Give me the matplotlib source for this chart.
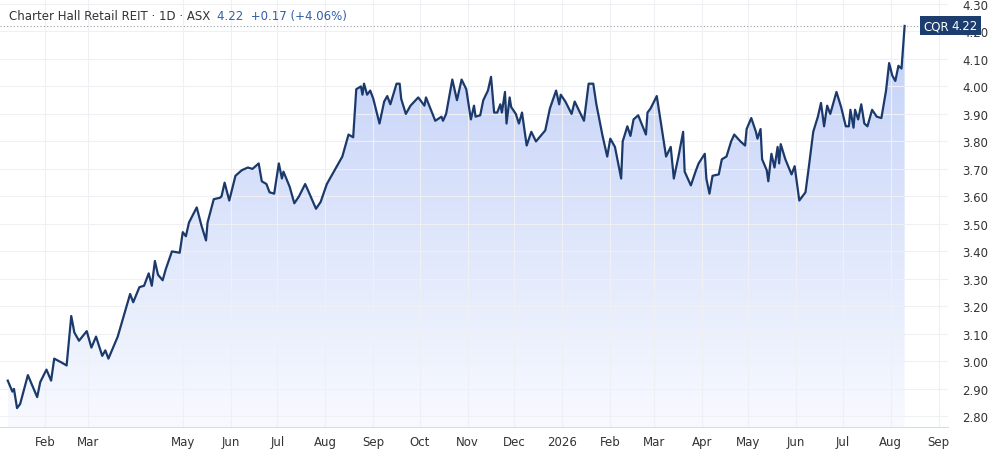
import matplotlib
matplotlib.use("Agg")
import matplotlib.pyplot as plt
import numpy as np
import pandas as pd
from matplotlib.patches import Polygon

start = pd.Timestamp("2025-01-08")
day_offsets = [0,3,4,6,8,13,19,21,25,28,30,35,38,41,43,46,51,54,57,61,63,65,71,79,81,85,88,91,93,95,97,100,102,106,111,113,115,117,122,125,128,129,133,137,138,140,143,147,151,155,158,162,164,167,169,172,175,177,178,182,185,188,192,194,199,202,206,213,216,220,223,225,228,229,230,232,234,236,240,243,245,247,251,253,254,257,260,265,269,270,276,280,281,283,287,290,293,296,299,301,302,305,307,310,312,314,316,318,319,321,322,324,325,328,330,332,335,338,341,344,347,350,354,356,357,360,364,366,372,375,378,380,384,387,389,392,396,397,400,402,404,407,412,413,415,419,422,425,428,430,433,436,437,441,444,446,450,451,453,455,459,461,464,467,469,473,476,477,480,483,484,486,487,490,491,493,495,497,498,499,502,506,508,511,515,517,520,523,525,527,529,531,535,538,541,543,544,546,547,549,551,553,555,558,561,564,567,569,571,573,575,577,579]
prices = [2.93,2.89,2.90,2.83,2.845,2.95,2.87,2.925,2.97,2.93,3.01,2.995,2.985,3.165,3.105,3.075,3.11,3.05,3.09,3.02,3.04,3.01,3.09,3.245,3.215,3.27,3.275,3.32,3.275,3.365,3.315,3.295,3.335,3.40,3.395,3.47,3.455,3.505,3.56,3.495,3.44,3.505,3.59,3.595,3.60,3.65,3.585,3.675,3.695,3.705,3.70,3.72,3.655,3.645,3.615,3.61,3.72,3.665,3.69,3.635,3.575,3.60,3.645,3.62,3.555,3.58,3.645,3.715,3.745,3.825,3.815,3.99,4.00,3.97,4.01,3.97,3.985,3.955,3.865,3.945,3.965,3.935,4.01,4.01,3.955,3.90,3.93,3.96,3.93,3.96,3.875,3.89,3.875,3.90,4.025,3.95,4.025,3.99,3.88,3.93,3.89,3.895,3.95,3.985,4.035,3.905,3.905,3.935,3.905,3.98,3.865,3.96,3.925,3.90,3.865,3.905,3.785,3.835,3.80,3.82,3.84,3.92,3.985,3.935,3.97,3.945,3.90,3.945,3.875,4.01,4.01,3.935,3.82,3.745,3.81,3.78,3.665,3.80,3.855,3.82,3.88,3.895,3.825,3.905,3.92,3.965,3.855,3.745,3.78,3.665,3.745,3.835,3.69,3.64,3.69,3.72,3.755,3.665,3.61,3.675,3.68,3.735,3.745,3.80,3.825,3.80,3.785,3.845,3.885,3.835,3.81,3.845,3.735,3.695,3.655,3.755,3.705,3.78,3.72,3.79,3.735,3.68,3.71,3.585,3.615,3.70,3.835,3.89,3.94,3.855,3.93,3.90,3.98,3.925,3.855,3.855,3.915,3.85,3.915,3.88,3.935,3.865,3.855,3.915,3.89,3.885,3.985,4.085,4.04,4.02,4.075,4.065,4.22]
month_ticks = ["2025-02-01","2025-03-01","2025-05-01","2025-06-01","2025-07-01","2025-08-01","2025-09-01","2025-10-01","2025-11-01","2025-12-01","2026-01-01","2026-02-01","2026-03-01","2026-04-01","2026-05-01","2026-06-01","2026-07-01","2026-08-01","2026-09-01"]
month_labels = ["Feb","Mar","May","Jun","Jul","Aug","Sep","Oct","Nov","Dec","2026","Feb","Mar","Apr","May","Jun","Jul","Aug","Sep"]
y_ticks = [2.80,2.90,3.00,3.10,3.20,3.30,3.40,3.50,3.60,3.70,3.80,3.90,4.00,4.10,4.20,4.30]
last_price = 4.22

dates = [start + pd.Timedelta(days=d) for d in day_offsets]
x = matplotlib.dates.date2num(dates)
y = np.array(prices)

fig = plt.figure(figsize=(10, 4.6), dpi=100)
ax = fig.add_axes([0.0, 0.07, 0.948, 0.93])
xmin = matplotlib.dates.date2num(start - pd.Timedelta(days=5))
xmax = matplotlib.dates.date2num(start + pd.Timedelta(days=607))
ymin, ymax = 2.762, 4.318
ax.set_xlim(xmin, xmax)
ax.set_ylim(ymin, ymax)

grad = np.linspace(0, 1, 256).reshape(-1, 1)
cmap = matplotlib.colors.LinearSegmentedColormap.from_list("g", ["#f8faff", "#c3d1f8"])
im = ax.imshow(grad, aspect="auto", cmap=cmap, origin="lower",
               extent=[x[0], x[-1], ymin, y.max()], zorder=1)
poly = Polygon(np.column_stack([np.r_[x[0], x, x[-1]], np.r_[ymin, y, ymin]]),
               closed=True, facecolor="none", edgecolor="none")
ax.add_patch(poly)
im.set_clip_path(poly)
ax.plot(x, y, color="#1b3a6b", lw=1.6, zorder=3)

ax.axhline(last_price, color="#9aa0a8", lw=0.8, ls=(0, (1, 2)), zorder=2)

ax.set_xticks(matplotlib.dates.date2num(pd.to_datetime(month_ticks)))
ax.set_xticklabels(month_labels)
ax.yaxis.tick_right()
ax.set_yticks(y_ticks)
ax.set_yticklabels([f"{v:.2f}" for v in y_ticks])
ax.tick_params(axis="both", length=0, labelsize=8.5, colors="#333333")
ax.tick_params(axis="y", pad=10)
ax.tick_params(axis="x", pad=6)
ax.grid(True, color="#eef0f3", lw=0.8, zorder=0)
for s in ax.spines.values():
    s.set_visible(False)
ax.spines["bottom"].set_visible(True)
ax.spines["bottom"].set_color("#d8dbe0")

t1 = fig.text(0.009, 0.965, "Charter Hall Retail REIT · 1D · ASX", fontsize=8.5, color="#333333", va="center")
fig.canvas.draw()
ax.annotate("4.22  +0.17 (+4.06%)", xy=(1, 0.5), xycoords=t1, xytext=(5, 0),
            textcoords="offset points", fontsize=8.5, color="#2f5fa8", va="center", ha="left")

ax.text(0.974, last_price, "CQR", transform=ax.get_yaxis_transform(), fontsize=8.5,
        color="white", va="center", ha="left", zorder=6,
        bbox=dict(boxstyle="square,pad=0.25", fc="#1c3d6e", ec="none"))
ax.text(1.004, last_price, "4.22", transform=ax.get_yaxis_transform(), fontsize=8.5,
        color="white", va="center", ha="left", zorder=6,
        bbox=dict(boxstyle="square,pad=0.25", fc="#1c3d6e", ec="none"))

fig.savefig("out.png", dpi=100, facecolor="white")
